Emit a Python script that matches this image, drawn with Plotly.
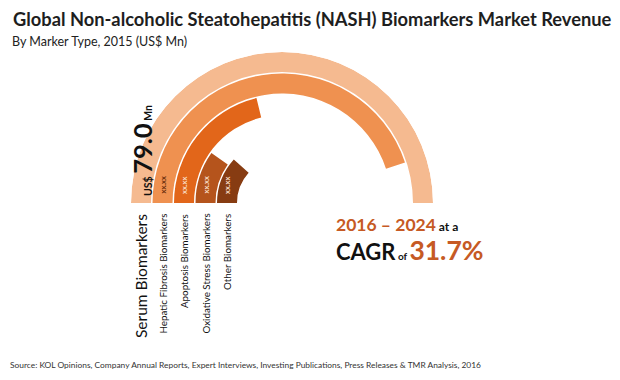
import plotly.graph_objects as go

# ---- data ----
categories = ["Serum Biomarkers", "Hepatic Fibrosis Biomarkers", "Apoptosis Biomarkers",
              "Oxidative Stress Biomarkers", "Other Biomarkers"]
values = [79.0, 71.0, 33.5, 15.5, 18.5]          # US$ Mn (only Serum is labelled; rest estimated)
value_labels = ["79.0", "xx.xx", "xx.xx", "xx.xx", "xx.xx"]
colors = ["#F5BA90", "#EF9150", "#E2661A", "#B5541C", "#873C12"]

W, H = 620, 380
CX, CY = 282, 203          # centre of the rings (px)
R_OUT = 151                # outer radius (px)
THICK = 20
STEP = 21.5
FONT = "Lato"

fig = go.Figure()

max_v = values[0]
for i, (cat, v, c) in enumerate(zip(categories, values, colors)):
    span = v / max_v * 180.0
    outer = R_OUT - i * STEP
    fig.add_trace(go.Barpolar(
        r=[THICK], base=[outer - THICK], theta=[span / 2], width=[span],
        marker=dict(color=c, line=dict(width=0)),
        name=cat, hoverinfo="name", showlegend=False,
    ))

# invisible cartesian trace so that pixel-based annotation axes exist
fig.add_trace(go.Scatter(x=[0, W], y=[0, H], mode="markers", marker=dict(opacity=0),
                         hoverinfo="skip", showlegend=False))

fig.update_layout(
    width=W, height=H,
    margin=dict(l=0, r=0, t=0, b=0),
    paper_bgcolor="white", plot_bgcolor="rgba(0,0,0,0)",
    polar=dict(
        domain=dict(x=[(CX - R_OUT) / W, (CX + R_OUT) / W],
                    y=[1 - (CY + R_OUT) / H, 1 - (CY - R_OUT) / H]),
        bgcolor="rgba(0,0,0,0)",
        angularaxis=dict(rotation=180, direction="clockwise", visible=False, showgrid=False),
        radialaxis=dict(range=[0, R_OUT], visible=False, showgrid=False),
        bargap=0,
    ),
    xaxis=dict(range=[0, W], visible=False, domain=[0, 1], fixedrange=True),
    yaxis=dict(range=[H, 0], visible=False, domain=[0, 1], fixedrange=True),
    font=dict(family=FONT),
)

ann = []
# title & subtitle
ann.append(dict(x=11, y=19, text="<b>Global Non-alcoholic Steatohepatitis (NASH) Biomarkers Market Revenue</b>",
                xanchor="left", yanchor="middle", font=dict(size=18.3, color="#1E1E1E", family=FONT)))
ann.append(dict(x=10, y=41, text="By Marker Type, 2015 (US$ Mn)",
                xanchor="left", yanchor="middle", font=dict(size=12.5, color="#222222", family=FONT)))

# category labels (rotated) and value labels
for i, cat in enumerate(categories):
    outer = R_OUT - i * STEP
    xc = CX - (outer - THICK / 2)
    if i == 0:
        ann.append(dict(x=xc, y=212, text=cat, textangle=-90, xanchor="center", yanchor="top",
                        font=dict(size=15.5, color="#111111", family=FONT)))
        ann.append(dict(x=xc + 1, y=151,
                        text="<b><span style='font-size:10.5px'>US$ </span>" + value_labels[i] +
                             "<span style='font-size:10.5px'> Mn</span></b>",
                        textangle=-90, xanchor="center", yanchor="middle",
                        font=dict(size=25.5, color="#111111", family=FONT)))
    else:
        ann.append(dict(x=xc, y=212, text=cat, textangle=-90, xanchor="center", yanchor="top",
                        font=dict(size=9.8, color="#111111", family=FONT)))
        ann.append(dict(x=xc, y=185, text="<b>" + value_labels[i] + "</b>", textangle=-90,
                        xanchor="center", yanchor="middle",
                        font=dict(size=7.5, color="#6B2E0C" if i == 1 else "#F8DCC4", family=FONT)))

# CAGR block
ORANGE = "#C65A24"
ann.append(dict(x=334, y=240, xanchor="left", yanchor="middle", align="left",
                text=("<b><span style='color:%s;font-size:17.5px'>2016 – 2024</span>"
                      "<span style='font-size:12px'> at a</span></b><br>"
                      "<b><span style='font-size:22px'>CAGR</span><span style='font-size:10px'> of </span>"
                      "<span style='color:%s;font-size:26.5px'>31.7%%</span></b>") % (ORANGE, ORANGE),
                font=dict(size=22.3, color="#111111", family=FONT)))

# source
ann.append(dict(x=8, y=365, xanchor="left", yanchor="middle",
                text="Source: KOL Opinions, Company Annual Reports, Expert Interviews, Investing Publications, Press Releases & TMR Analysis, 2016",
                font=dict(size=8.4, color="#333333", family=FONT)))

for a in ann:
    a.update(xref="x", yref="y", showarrow=False)
fig.update_layout(annotations=ann)

fig.write_html("out.html", config={"displayModeBar": False, "staticPlot": True},
               post_script="document.body.style.margin='0px';")
